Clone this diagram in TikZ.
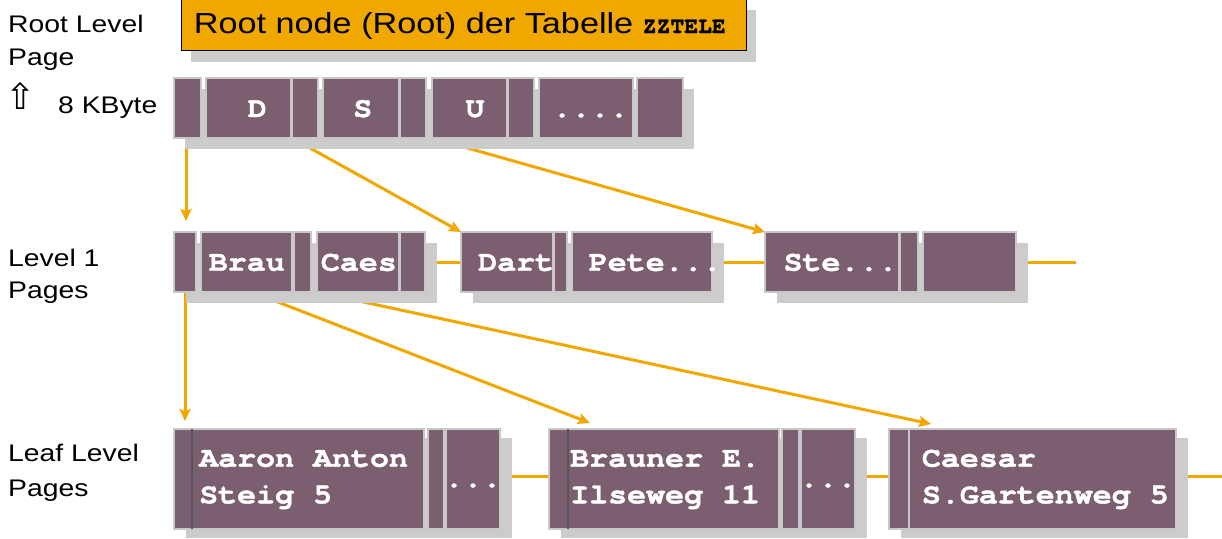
\documentclass[tikz,border=0pt]{standalone}
\usepackage{fontspec}
\setmainfont{Liberation Sans}[FakeStretch=1.18]
\newfontfamily\cellfont{texgyrecursor-bold.otf}[FakeBold=1.4, FakeStretch=1.11]
\newfontfamily\titlemono{texgyrecursor-bold.otf}[FakeBold=1.2]
\newfontfamily\symfont{DejaVu Sans}
\usetikzlibrary{arrows.meta}

\definecolor{mauve}{RGB}{123,95,112}
\definecolor{cellline}{RGB}{200,200,200}
\definecolor{shadowgray}{RGB}{204,204,204}
\definecolor{amber}{RGB}{240,168,0}
\definecolor{divline}{RGB}{85,85,85}

\pgfdeclarelayer{lines}
\pgfdeclarelayer{shadows}
\pgfsetlayers{lines,shadows,main}

\tikzset{
  cell/.style={draw=cellline, line width=1.2pt, fill=mauve, anchor=north west,
    inner sep=0pt, outer sep=0pt},
  key/.style={text=white, font=\cellfont\fontsize{28.5}{32}\selectfont,
    inner sep=0pt, anchor=base west},
  lbl/.style={font=\fontsize{24}{28}\selectfont, inner sep=0pt, anchor=base west},
  link/.style={draw=amber, line width=3pt},
  ptr/.style={link, -{Stealth[length=12pt,width=11pt,inset=2pt]}},
  drop/.style={fill=shadowgray},
  divider/.style={draw=divline, line width=1.5pt},
}

% one page cell: name, left, right, top, bottom
\newcommand\cellat[5]{\node[cell, minimum width={#3-#2}, minimum height={#5-#4}] (#1) at (#2,#4) {};}

\begin{document}
\begin{tikzpicture}[x=1pt, y=-1pt]
\useasboundingbox (0,0) rectangle (1222,538);

% ---- title box
\node[draw=black, line width=0.8pt, fill=amber, minimum width=565, minimum height=52,
  anchor=north west, inner sep=0pt, outer sep=0pt] (title) at (181,-2) {};
\node[font=\fontsize{29}{34}\selectfont, anchor=base west, inner sep=0pt] (titletext) at (193.7,33)
  {Root node (Root) der Tabelle {\titlemono\fontsize{23}{26}\selectfont ZZTELE}};

% ---- level captions
\node[lbl] (capA) at (8,32.3) {Root Level};
\node[lbl] (capB) at (8,65.7) {Page};
\node[font=\symfont\fontsize{36}{40}\selectfont, inner sep=0pt] (uparrow) at (21,96) {⇧};
\node[lbl] (capC) at (58,113.3) {8 KByte};
\node[lbl] (capD) at (8,266) {Level 1};
\node[lbl] (capE) at (8,298.3) {Pages};
\node[lbl] (capF) at (8,461.7) {Leaf Level};
\node[lbl] (capG) at (8,496.7) {Pages};

% ---- root page
\cellat{rp0}{174}{201}{78}{138}
\cellat{rk0}{206}{291}{78}{138}
\cellat{rp1}{292}{318}{78}{138}
\cellat{rk1}{323}{399}{78}{138}
\cellat{rp2}{400}{426}{78}{138}
\cellat{rk2}{432}{507}{78}{138}
\cellat{rp3}{508}{534}{78}{138}
\cellat{rk3}{539}{633}{78}{138}
\cellat{rp4}{637}{683}{78}{138}
\node[key, anchor=base] (tD) at (257.3,117) {D};
\node[key, anchor=base] (tS) at (362.7,117) {S};
\node[key, anchor=base] (tU) at (475,117) {U};
\node[key, anchor=base] (tR) at (590.5,117) {....};

% ---- level 1 pages
\cellat{lp0}{174}{196}{232}{292}
\cellat{lk0}{201}{292}{232}{292}
\cellat{lp1}{294}{311}{232}{292}
\cellat{lk1}{317}{399}{232}{292}
\cellat{lp2}{400}{425}{232}{292}
\cellat{lk2}{461}{553}{232}{292}
\cellat{lp3}{554}{567}{232}{292}
\cellat{lk3}{572}{712}{232}{292}
\cellat{lk4}{765}{899}{232}{292}
\cellat{lp4}{900}{918}{232}{292}
\cellat{lk5}{923}{1016}{232}{292}
\node[key] (tBrau) at (208.6,270.7) {Brau};
\node[key] (tCaes) at (320.7,270.7) {Caes};
\node[key] (tDart) at (478,270.7) {Dart};
\node[key] (tPete) at (588.6,270.7) {Pete...};
\node[key] (tSte) at (783.3,270.7) {Ste...};

% ---- leaf pages
\cellat{f1k}{174}{424}{429}{529}
\cellat{f1p}{428}{444}{429}{529}
\cellat{f1d}{446}{500}{429}{529}
\cellat{f2k}{549}{779}{429}{529}
\cellat{f2p}{782}{799}{429}{529}
\cellat{f2d}{801}{855}{429}{529}
\cellat{f3p}{889}{909}{429}{529}
\cellat{f3k}{909}{1176}{429}{529}
\draw[divider] ([xshift=18pt]f1k.north west) -- ([xshift=18pt]f1k.south west);
\draw[divider] ([xshift=19pt]f2k.north west) -- ([xshift=19pt]f2k.south west);
\node[key] (tA1) at (199,466.7) {Aaron Anton};
\node[key] (tA2) at (199,503.3) {Steig 5};
\node[key] (tB1) at (570,466.7) {Brauner E.};
\node[key] (tB2) at (570,503.3) {Ilseweg 11};
\node[key] (tC1) at (921.7,466.7) {Caesar};
\node[key] (tC2) at (921.7,503.3) {S.Gartenweg 5};
\node[key, anchor=base] (tF1) at (473,487) {...};
\node[key, anchor=base] (tF2) at (828,487) {...};

\coordinate (l1end) at (1076,262);
\coordinate (leafend) at (1222,476);

% ---- drop shadows
\begin{pgfonlayer}{shadows}
  \fill[drop] ([shift={(10pt,-12pt)}]title.north west) rectangle ([shift={(10pt,-12pt)}]title.south east);
  \fill[drop] ([shift={(11pt,-11pt)}]rp0.north west) rectangle ([shift={(11pt,-11pt)}]rp4.south east);
  \fill[drop] ([shift={(12pt,-11pt)}]lp0.north west) rectangle ([shift={(12pt,-11pt)}]lp2.south east);
  \fill[drop] ([shift={(12pt,-11pt)}]lk2.north west) rectangle ([shift={(12pt,-11pt)}]lk3.south east);
  \fill[drop] ([shift={(12pt,-11pt)}]lk4.north west) rectangle ([shift={(12pt,-11pt)}]lk5.south east);
  \fill[drop] ([shift={(12pt,-9pt)}]f1k.north west) rectangle ([shift={(12pt,-9pt)}]f1d.south east);
  \fill[drop] ([shift={(12pt,-9pt)}]f2k.north west) rectangle ([shift={(12pt,-9pt)}]f2d.south east);
  \fill[drop] ([shift={(12pt,-9pt)}]f3p.north west) rectangle ([shift={(12pt,-9pt)}]f3k.south east);
\end{pgfonlayer}

% ---- pointers and page chains
\begin{pgfonlayer}{lines}
  \draw[ptr] ([xshift=12pt]rp0.south west) -- ([shift={(12pt,11pt)}]lp0.north west);
  \draw[ptr] (rp1.south west) -- (lk2.north west);
  \draw[ptr] (rk2.south west) -- (lk4.north west);
  \draw[ptr] ([xshift=11pt]lp0.south west) -- ([shift={(11pt,8pt)}]f1k.north west);
  \draw[ptr] ([xshift=51pt]lk0.south west) -- ([shift={(41pt,6pt)}]f2k.north west);
  \draw[ptr] (lk1.south west) -- ([shift={(42pt,5pt)}]f3p.north west);
  \draw[link] (lp2.east) -- (lk2.west);
  \draw[link] (lk3.east) -- (lk4.west);
  \draw[link] (lk5.east) -- (l1end);
  \draw[link] ([yshift=3pt]f1d.east) -- ([yshift=3pt]f2k.west);
  \draw[link] ([yshift=3pt]f2d.east) -- ([yshift=3pt]f3p.west);
  \draw[link] ([yshift=3pt]f3k.east) -- (leafend);
\end{pgfonlayer}
\end{tikzpicture}
\end{document}
